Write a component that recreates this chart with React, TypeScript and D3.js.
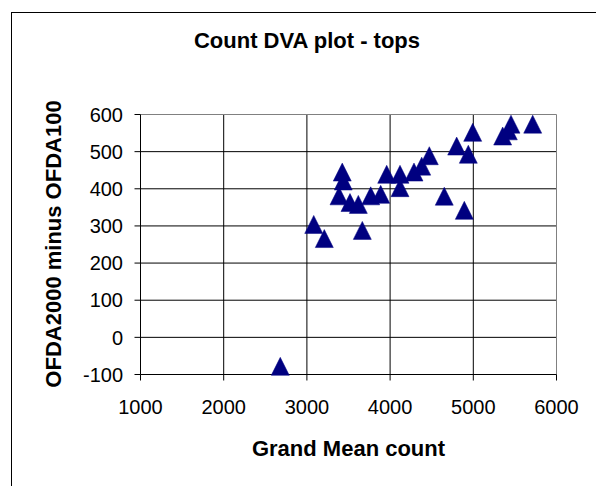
import React from "react";
import * as d3 from "d3";

const grandMean: number[] = [2680, 3082, 3209, 3666, 3425, 3437, 3386, 3518, 3618, 3767, 3887, 3959, 4119, 4119, 4287, 4380, 4471, 4800, 4940, 4993, 4651, 4892, 5353, 5421, 5453, 5714];
const dva: number[] = [-78, 304, 266, 288, 445, 421, 381, 363, 358, 381, 385, 439, 439, 403, 445, 461, 489, 515, 493, 552, 380, 342, 542, 556, 574, 574];
const xTicks: number[] = [1000, 2000, 3000, 4000, 5000, 6000];
const yTicks: number[] = [-100, 0, 100, 200, 300, 400, 500, 600];
const title = "Count DVA plot - tops";
const xTitle = "Grand Mean count";
const yTitle = "OFDA2000 minus OFDA100";

export default function App() {
  const W = 596, H = 486;
  const x = d3.scaleLinear().domain([1000, 6000]).range([140.5, 556.5]);
  const y = d3.scaleLinear().domain([-100, 600]).range([374.5, 114.5]);
  const tri = "M0,-9L9,9L-9,9Z";
  const font = "'Liberation Sans', Arial, sans-serif";
  const [x0, x1] = x.range();
  const [y0, y1] = y.range();
  return (
    <svg width={W} height={H} style={{ position: "absolute", left: 0, top: 0, background: "#fff" }} fontFamily={font}>
      <rect x={11.5} y={12.5} width={700} height={600} fill="#fff" stroke="#000" strokeWidth={1} />
      <text x={307} y={48} textAnchor="middle" fontSize={22} fontWeight="bold">{title}</text>
      {/* gridlines */}
      {xTicks.slice(1, -1).map((t) => (
        <line key={"gx" + t} x1={x(t)} x2={x(t)} y1={y1} y2={y0} stroke="#000" />
      ))}
      {yTicks.slice(1, -1).map((t) => (
        <line key={"gy" + t} x1={x0} x2={x1} y1={y(t)} y2={y(t)} stroke="#000" />
      ))}
      {/* plot border top/right gray */}
      <line x1={x0} x2={x1} y1={y1} y2={y1} stroke="#808080" />
      <line x1={x1} x2={x1} y1={y1} y2={y0} stroke="#808080" />
      {/* axes */}
      <line x1={x0} x2={x0} y1={y1} y2={y0} stroke="#000" />
      <line x1={x0} x2={x1} y1={y0} y2={y0} stroke="#000" />
      {yTicks.map((t) => (
        <g key={"ty" + t}>
          <line x1={x0 - 6} x2={x0} y1={y(t)} y2={y(t)} stroke="#000" />
          <text x={123} y={y(t)} dy="0.36em" textAnchor="end" fontSize={20}>{t}</text>
        </g>
      ))}
      {xTicks.map((t) => (
        <g key={"tx" + t}>
          <line x1={x(t)} x2={x(t)} y1={y0} y2={y0 + 6} stroke="#000" />
          <text x={x(t)} y={414} textAnchor="middle" fontSize={20}>{t}</text>
        </g>
      ))}
      <text x={348.5} y={456} textAnchor="middle" fontSize={22} fontWeight="bold">{xTitle}</text>
      <text transform={`translate(61,244) rotate(-90)`} textAnchor="middle" fontSize={22} fontWeight="bold">{yTitle}</text>
      {grandMean.map((g, i) => (
        <path key={"p" + i} d={tri} transform={`translate(${x(g)},${y(dva[i])})`} fill="#000080" stroke="#000080" strokeWidth={0.5} />
      ))}
    </svg>
  );
}
